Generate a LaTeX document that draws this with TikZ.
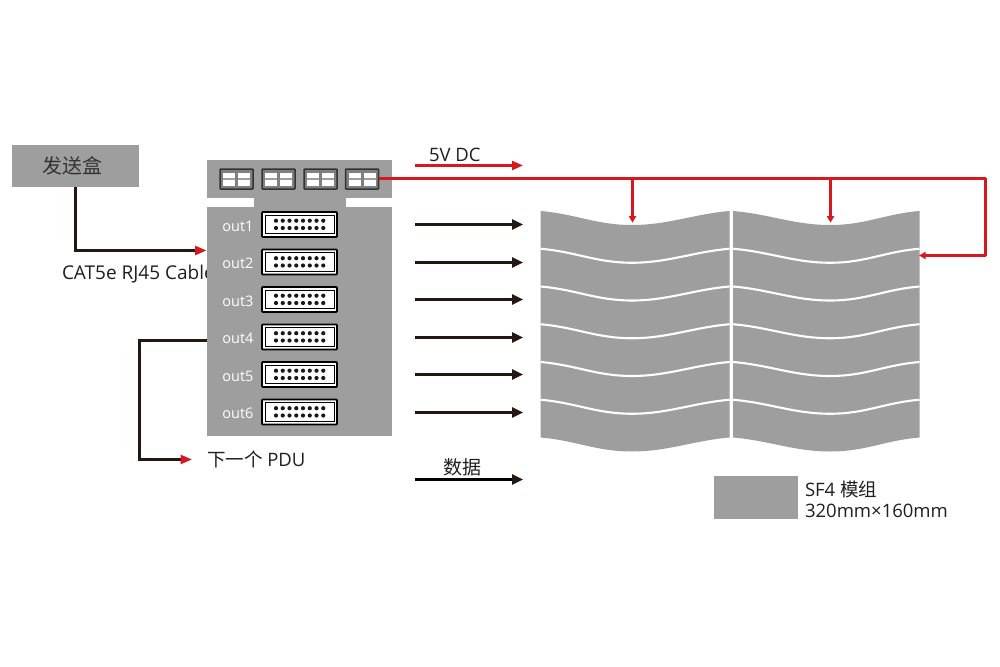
\documentclass[tikz,border=0pt]{standalone}
\usepackage{fontspec}
\setmainfont{Open Sans}
\newfontfamily\cjk{Noto Sans CJK SC}
\usetikzlibrary{arrows.meta,calc}
\definecolor{panelgray}{HTML}{9E9E9E}
\definecolor{linkred}{HTML}{D7181F}
\definecolor{inkblack}{HTML}{231815}
\tikzset{
  graybox/.style={fill=panelgray,draw=none,inner sep=0pt,outer sep=0pt,rectangle},
  redline/.style={draw=linkred,line width=2.4pt,line join=round},
  redtip/.style={redline,-{Triangle[length=6.5pt,width=7pt,color=linkred]}},
  redbig/.style={redline,-{Triangle[length=11pt,width=9pt,color=linkred]}},
  blacktip/.style={draw=inkblack,line width=2.5pt,-{Triangle[length=11pt,width=10pt,color=inkblack]}},
  cable/.style={draw=inkblack,line width=2.5pt,line join=miter,-{Triangle[length=11.5pt,width=9pt,color=linkred]}},
  label/.style={inner sep=0pt,outer sep=0pt,text=black!88,font=\fontsize{18.5}{20}\selectfont},
  outlabel/.style={inner sep=0pt,outer sep=0pt,text=white,font=\fontsize{14.5}{16}\selectfont},
  port/.style={draw=black!80,fill=black!50,line width=1.5pt,rounded corners=0.8pt,minimum width=33pt,minimum height=20pt,inner sep=0pt,outer sep=0pt},
  conn/.style={draw=black,fill=white,line width=1.7pt,rounded corners=0.8pt,minimum width=75pt,minimum height=25pt,inner sep=0pt,outer sep=0pt},
}
\begin{document}
\begin{tikzpicture}[x=1pt,y=-1pt]
\useasboundingbox (0,0) rectangle (1000,666);
% label partly hidden by the PDU
\node[label,anchor=base west,font=\fontsize{19}{20}\selectfont] (cat) at (62,279) {CAT5e RJ45 Cable};
% sender
\node[graybox,minimum width=127pt,minimum height=42pt,anchor=north west] (send) at (12,145) {};
\node[inner sep=0pt,font=\cjk\fontsize{20}{22}\selectfont,text=black!80] (sendtext) at (72.5,165.5) {发送盒};
% PDU
\node[graybox,minimum width=185pt,minimum height=38pt,anchor=north west] (pdutop) at (207,160) {};
\node[graybox,minimum width=92pt,minimum height=10pt,anchor=north west] (pduneck) at (253.5,197) {};
\node[graybox,minimum width=185pt,minimum height=229.5pt,anchor=north west] (pdu) at (207,206.5) {};
% RJ45 ports
\foreach \n/\x in {1/220,2/262,3/304,4/345.5}{
  \node[port,anchor=north west] (p\n) at (\x,169) {};
  \foreach \d in {3,18}{
    \fill[white] (\x+\d,172.5) rectangle ++(12,13);
    \fill[panelgray] (\x+\d,178.2) rectangle ++(12,1.8);
  }
}
% out connectors
\foreach \i [evaluate=\i as \y using {212+37.5*(\i-1)}] in {1,...,6}{
  \node[outlabel,anchor=base] (out\i) at (238,\y+19) {out\i};
  \node[conn,anchor=north west] (c\i) at (262,\y) {};
  \draw[black,line width=1.1pt] (265.2,\y+3.2) rectangle (334.3,\y+21.8);
  \foreach \k in {0,...,7}{
    \fill[black!90] (276+6.75*\k,\y+8.7) circle (2.1);
    \fill[black!90] (276+6.75*\k,\y+16) circle (2.1);
  }
}
% wavy modules
\foreach \r in {0,...,5}{
  \pgfmathsetmacro{\t}{211+37.75*\r}
  \pgfmathsetmacro{\b}{\t+37.75}
  \fill[panelgray] (540.5,\t) .. controls (576,\t+3) and (596,\t+14) .. (632,\t+14)
     .. controls (668,\t+14) and (694,\t+3) .. (729.5,\t)
     -- (729.5,\b) .. controls (694,\b+3) and (668,\b+14) .. (632,\b+14)
     .. controls (596,\b+14) and (576,\b+3) .. (540.5,\b) -- cycle;
  \fill[panelgray] (733,\t) .. controls (769,\t+3) and (794,\t+14) .. (830,\t+14)
     .. controls (866,\t+14) and (884,\t+3) .. (919.5,\t)
     -- (919.5,\b) .. controls (884,\b+3) and (866,\b+14) .. (830,\b+14)
     .. controls (794,\b+14) and (769,\b+3) .. (733,\b) -- cycle;
}
\foreach \r in {1,...,5}{
  \pgfmathsetmacro{\t}{211+37.75*\r}
  \draw[white,line width=2.1pt] (540.5,\t) .. controls (576,\t+3) and (596,\t+14) .. (632,\t+14)
     .. controls (668,\t+14) and (694,\t+3) .. (729.5,\t);
  \draw[white,line width=2.1pt] (733,\t) .. controls (769,\t+3) and (794,\t+14) .. (830,\t+14)
     .. controls (866,\t+14) and (884,\t+3) .. (919.5,\t);
}
% coordinates for connector ends
\coordinate (inA) at (206.5,250.5);
\coordinate (outA) at (207,340.5);
\coordinate (turnA) at (139.5,340.5);
\coordinate (nextA) at (192,459.5);
\coordinate (powS) at (415,165.5);
\coordinate (powE) at (523,165.5);
\coordinate (busC) at (985.5,178.5);
\coordinate (busD) at (985.5,255.5);
\coordinate (modIn) at (919,255.5);
\coordinate (drop1) at (632.5,178.5);
\coordinate (drop2) at (830.5,178.5);
\coordinate (tip1) at (632.5,222.7);
\coordinate (tip2) at (830.5,222.7);
% connectors
\draw[cable] (75.5,187) |- (inA);
\draw[cable] (outA) -- (turnA) |- (nextA);
\draw[redbig] (powS) -- (powE);
\draw[redline] (p4.east |- drop1) -- (drop1) -- (drop2) -- (busC) -- (busD);
\draw[redtip] (busD) -- (modIn);
\draw[redtip] (drop1) -- (tip1);
\draw[redtip] (drop2) -- (tip2);
\foreach \i/\y in {1/224.5,2/262.5,3/299.5,4/337.5,5/374.5,6/412.5}{
  \coordinate (as\i) at (415,\y);
  \coordinate (ae\i) at (523,\y);
  \draw[blacktip] (as\i) -- (ae\i);
}
\coordinate (das) at (415,479.5);
\coordinate (dae) at (523,479.5);
\draw[blacktip,draw=black] (das) -- (dae);
% labels
\node[label,anchor=base west] (pow) at (429,161.5) {5V DC};
\node[label,anchor=base west] (nextpdu) at (207,466.5) {{\cjk 下一个} PDU};
\node[label,anchor=center,font=\cjk\fontsize{19}{20}\selectfont] (data) at (462.5,467) {数据};
% legend
\node[graybox,minimum width=84pt,minimum height=43pt,anchor=north west] (legend) at (713.5,476) {};
\node[label,anchor=base west] (l1) at (805,496.5) {SF4 {\cjk 模组}};
\node[label,anchor=base west] (l2) at (805,517) {320mm×160mm};
\end{tikzpicture}
\end{document}
